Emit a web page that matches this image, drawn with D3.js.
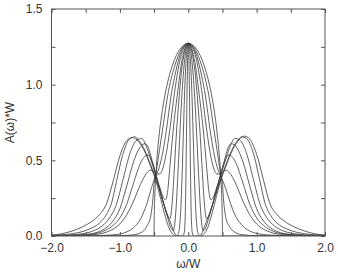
<!DOCTYPE html>
<html>
<head>
<meta charset="utf-8">
<script src="https://cdn.jsdelivr.net/npm/d3@7"></script>
<style>
  html, body { margin: 0; padding: 0; background: #fff; }
  svg { display: block; }
</style>
</head>
<body>
<svg id="chart" width="338" height="278"></svg>
<script>
// ---- Data ----
const xTickValues = [-2.0, -1.5, -1.0, -0.5, 0.0, 0.5, 1.0, 1.5, 2.0];
const xTickLabels = ["\u22122.0", "", "\u22121.0", "", "0.0", "", "1.0", "", "2.0"];
const yTickValues = [0.0, 0.25, 0.5, 0.75, 1.0, 1.25, 1.5];
const yTickLabels = ["0.0", "", "0.5", "", "1.0", "", "1.5"];
const xTitle = "\u03c9/W";
const yTitle = "A(\u03c9)*W";

// each curve: [omega/W, A(omega)*W]
const curve0 = [[-2.0,0],[-0.5,0],[-0.4995,0.06],[-0.495,0.179],[-0.49,0.253],[-0.48,0.356],[-0.47,0.434],[-0.45,0.555],[-0.43,0.65],[-0.4,0.764],[-0.35,0.909],[-0.3,1.018],[-0.25,1.102],[-0.2,1.167],[-0.1,1.247],[0,1.273],[0.1,1.247],[0.2,1.167],[0.25,1.102],[0.3,1.018],[0.35,0.909],[0.4,0.764],[0.43,0.65],[0.45,0.555],[0.47,0.434],[0.48,0.356],[0.49,0.253],[0.495,0.179],[0.4995,0.06],[0.5,0],[2.0,0]];

const curve1 = [[-2.0,0],[-1.3,0],[-1.0,0.002],[-0.8,0.008],[-0.7,0.02],[-0.65,0.035],[-0.6,0.07],[-0.55,0.13],[-0.52,0.23],[-0.5,0.34],[-0.47,0.42],[-0.42,0.57],[-0.37,0.72],[-0.3,0.93],[-0.2,1.12],[-0.1,1.235],[0,1.273],[0.1,1.235],[0.2,1.12],[0.3,0.93],[0.37,0.72],[0.42,0.57],[0.47,0.42],[0.5,0.34],[0.52,0.22],[0.55,0.12],[0.6,0.065],[0.65,0.035],[0.7,0.02],[0.8,0.008],[1.0,0.002],[1.3,0],[2.0,0]];

const curve2 = [[-2.0,0],[-1.5,0.001],[-1.2,0.005],[-1.0,0.013],[-0.9,0.027],[-0.8,0.055],[-0.7,0.11],[-0.65,0.16],[-0.6,0.22],[-0.55,0.3],[-0.5,0.37],[-0.47,0.40],[-0.42,0.46],[-0.37,0.56],[-0.32,0.70],[-0.25,0.93],[-0.2,1.05],[-0.1,1.22],[0,1.273],[0.1,1.22],[0.2,1.05],[0.25,0.93],[0.32,0.70],[0.37,0.56],[0.42,0.46],[0.47,0.40],[0.5,0.37],[0.55,0.31],[0.6,0.24],[0.65,0.175],[0.7,0.125],[0.8,0.065],[0.9,0.033],[1.0,0.017],[1.2,0.006],[1.5,0.001],[2.0,0]];

const curve3 = [[-2.0,0],[-1.7,0.002],[-1.4,0.008],[-1.2,0.025],[-1.1,0.045],[-1.0,0.08],[-0.9,0.14],[-0.8,0.23],[-0.7,0.34],[-0.6,0.42],[-0.55,0.435],[-0.52,0.43],[-0.47,0.41],[-0.42,0.41],[-0.37,0.45],[-0.32,0.55],[-0.27,0.70],[-0.2,0.95],[-0.1,1.2],[0,1.273],[0.1,1.2],[0.2,0.95],[0.27,0.70],[0.32,0.55],[0.37,0.45],[0.42,0.41],[0.47,0.41],[0.52,0.43],[0.55,0.435],[0.6,0.42],[0.7,0.34],[0.8,0.23],[0.9,0.14],[1.0,0.08],[1.1,0.045],[1.2,0.025],[1.4,0.008],[1.7,0.002],[2.0,0]];

const curve4 = [[-2.0,0.001],[-1.7,0.003],[-1.4,0.013],[-1.2,0.04],[-1.1,0.07],[-1.0,0.12],[-0.9,0.21],[-0.8,0.35],[-0.7,0.48],[-0.65,0.52],[-0.59,0.535],[-0.52,0.48],[-0.47,0.40],[-0.4,0.3],[-0.36,0.25],[-0.33,0.24],[-0.3,0.3],[-0.27,0.45],[-0.22,0.70],[-0.15,0.97],[-0.1,1.14],[-0.05,1.24],[0,1.273],[0.05,1.24],[0.1,1.14],[0.15,0.97],[0.22,0.70],[0.27,0.45],[0.3,0.3],[0.33,0.24],[0.36,0.25],[0.4,0.3],[0.47,0.40],[0.52,0.48],[0.59,0.535],[0.65,0.52],[0.7,0.48],[0.8,0.35],[0.9,0.21],[1.0,0.12],[1.1,0.07],[1.2,0.04],[1.4,0.013],[1.7,0.003],[2.0,0.001]];

const curve5 = [[-2.0,0.001],[-1.8,0.003],[-1.5,0.01],[-1.3,0.03],[-1.2,0.055],[-1.1,0.1],[-1.0,0.18],[-0.9,0.33],[-0.8,0.49],[-0.7,0.59],[-0.63,0.61],[-0.58,0.58],[-0.53,0.5],[-0.47,0.40],[-0.4,0.28],[-0.35,0.2],[-0.3,0.13],[-0.27,0.115],[-0.25,0.15],[-0.23,0.25],[-0.2,0.47],[-0.17,0.70],[-0.15,0.82],[-0.1,1.08],[-0.05,1.225],[0,1.273],[0.05,1.225],[0.1,1.08],[0.15,0.82],[0.17,0.70],[0.2,0.47],[0.23,0.25],[0.25,0.15],[0.27,0.115],[0.3,0.13],[0.35,0.2],[0.4,0.28],[0.47,0.40],[0.53,0.5],[0.58,0.58],[0.63,0.61],[0.7,0.59],[0.8,0.49],[0.9,0.33],[1.0,0.18],[1.1,0.1],[1.2,0.055],[1.3,0.03],[1.5,0.01],[1.8,0.003],[2.0,0.001]];

const curve6 = [[-2.0,0.002],[-1.8,0.005],[-1.6,0.012],[-1.4,0.032],[-1.25,0.07],[-1.15,0.12],[-1.05,0.21],[-0.95,0.38],[-0.85,0.55],[-0.75,0.635],[-0.68,0.645],[-0.62,0.6],[-0.55,0.51],[-0.47,0.39],[-0.4,0.28],[-0.35,0.2],[-0.3,0.12],[-0.25,0.05],[-0.22,0.035],[-0.2,0.07],[-0.18,0.17],[-0.15,0.42],[-0.12,0.70],[-0.09,0.95],[-0.06,1.13],[-0.03,1.24],[0,1.273],[0.03,1.24],[0.06,1.13],[0.09,0.95],[0.12,0.70],[0.15,0.42],[0.18,0.17],[0.2,0.07],[0.22,0.035],[0.25,0.05],[0.3,0.12],[0.35,0.2],[0.4,0.28],[0.47,0.39],[0.55,0.51],[0.62,0.6],[0.68,0.645],[0.75,0.635],[0.85,0.55],[0.95,0.38],[1.05,0.21],[1.15,0.12],[1.25,0.07],[1.4,0.032],[1.6,0.012],[1.8,0.005],[2.0,0.002]];

const curve7 = [[-2.0,0.004],[-1.8,0.01],[-1.6,0.023],[-1.45,0.045],[-1.3,0.085],[-1.2,0.14],[-1.12,0.22],[-1.05,0.36],[-0.95,0.55],[-0.85,0.645],[-0.78,0.655],[-0.72,0.63],[-0.65,0.58],[-0.55,0.47],[-0.47,0.37],[-0.4,0.27],[-0.32,0.16],[-0.26,0.09],[-0.22,0.04],[-0.19,0.01],[-0.17,0.0],[-0.15,0.01],[-0.13,0.05],[-0.11,0.17],[-0.09,0.40],[-0.07,0.70],[-0.055,0.92],[-0.04,1.09],[-0.02,1.23],[0,1.273],[0.02,1.23],[0.04,1.09],[0.055,0.92],[0.07,0.70],[0.09,0.40],[0.11,0.17],[0.13,0.05],[0.15,0.01],[0.17,0.0],[0.19,0.01],[0.22,0.04],[0.26,0.09],[0.32,0.16],[0.4,0.27],[0.47,0.37],[0.55,0.47],[0.65,0.58],[0.72,0.63],[0.78,0.655],[0.85,0.645],[0.95,0.55],[1.05,0.36],[1.12,0.22],[1.2,0.14],[1.3,0.085],[1.45,0.045],[1.6,0.023],[1.8,0.01],[2.0,0.004]];

const curve8 = [[-2.0,0.006],[-1.85,0.015],[-1.7,0.033],[-1.55,0.06],[-1.4,0.1],[-1.3,0.14],[-1.19,0.22],[-1.1,0.36],[-1.0,0.53],[-0.9,0.63],[-0.82,0.65],[-0.75,0.635],[-0.65,0.57],[-0.55,0.46],[-0.47,0.36],[-0.4,0.24],[-0.33,0.12],[-0.27,0.04],[-0.22,0.01],[-0.18,0.0],[-0.08,0.0],[-0.06,0.02],[-0.045,0.12],[-0.035,0.35],[-0.025,0.7],[-0.016,1.0],[-0.008,1.2],[0,1.273],[0.008,1.2],[0.016,1.0],[0.025,0.7],[0.035,0.35],[0.045,0.12],[0.06,0.02],[0.08,0.0],[0.18,0.0],[0.22,0.01],[0.27,0.04],[0.33,0.12],[0.4,0.24],[0.47,0.36],[0.55,0.46],[0.65,0.57],[0.75,0.64],[0.82,0.66],[0.9,0.64],[1.0,0.54],[1.1,0.37],[1.19,0.22],[1.3,0.14],[1.4,0.1],[1.55,0.06],[1.7,0.033],[1.85,0.015],[2.0,0.006]];

const curves = [curve0, curve1, curve2, curve3, curve4, curve5, curve6, curve7, curve8];

// ---- Layout ----
const svg = d3.select("#chart");
const mLeft = 51.5, mRight = 325, mTop = 9, mBottom = 236;
const x = d3.scaleLinear().domain([-2, 2]).range([mLeft, mRight]);
const y = d3.scaleLinear().domain([0, 1.5]).range([mBottom, mTop]);

const font = "'Liberation Sans', Arial, Helvetica, sans-serif";
const axisColor = "#555";
const textColor = "#333";

svg.append("defs").append("clipPath").attr("id", "clip")
  .append("rect").attr("x", mLeft).attr("y", mTop).attr("width", mRight - mLeft).attr("height", mBottom - mTop);

const line = d3.line().x(d => x(d[0])).y(d => y(d[1])).curve(d3.curveMonotoneX);
svg.append("g").attr("clip-path", "url(#clip)")
  .selectAll("path").data(curves).join("path")
  .attr("d", line)
  .attr("fill", "none")
  .attr("stroke", "#3a3a3a")
  .attr("stroke-width", 0.8);

function styleAxis(g) {
  g.select(".domain").remove();
  g.selectAll(".tick line").attr("stroke", axisColor);
  g.selectAll(".tick text").attr("fill", textColor).attr("font-family", font).attr("font-size", 12);
}
const fmtX = (d, i) => xTickLabels[i];
const fmtY = (d, i) => yTickLabels[i];

svg.append("g").attr("transform", `translate(0,${mBottom})`)
  .call(d3.axisBottom(x).tickValues(xTickValues).tickSize(-4).tickPadding(7).tickFormat(fmtX))
  .call(styleAxis);
svg.append("g").attr("transform", `translate(0,${mTop})`)
  .call(d3.axisTop(x).tickValues(xTickValues).tickSize(-4).tickFormat(""))
  .call(styleAxis);
svg.append("g").attr("transform", `translate(${mLeft},0)`)
  .call(d3.axisLeft(y).tickValues(yTickValues).tickSize(-4).tickPadding(9).tickFormat(fmtY))
  .call(styleAxis);
svg.append("g").attr("transform", `translate(${mRight},0)`)
  .call(d3.axisRight(y).tickValues(yTickValues).tickSize(-4).tickFormat(""))
  .call(styleAxis);

svg.append("rect").attr("x", mLeft).attr("y", mTop).attr("width", mRight - mLeft).attr("height", mBottom - mTop)
  .attr("fill", "none").attr("stroke", axisColor).attr("stroke-width", 1);

svg.append("text").attr("x", (mLeft + mRight) / 2).attr("y", 268)
  .attr("text-anchor", "middle").attr("font-family", font).attr("font-size", 12).attr("fill", textColor)
  .text(xTitle);
svg.append("text").attr("transform", `translate(14,${(mTop + mBottom) / 2}) rotate(-90)`)
  .attr("text-anchor", "middle").attr("font-family", font).attr("font-size", 12).attr("fill", textColor)
  .text(yTitle);
</script>
</body>
</html>
